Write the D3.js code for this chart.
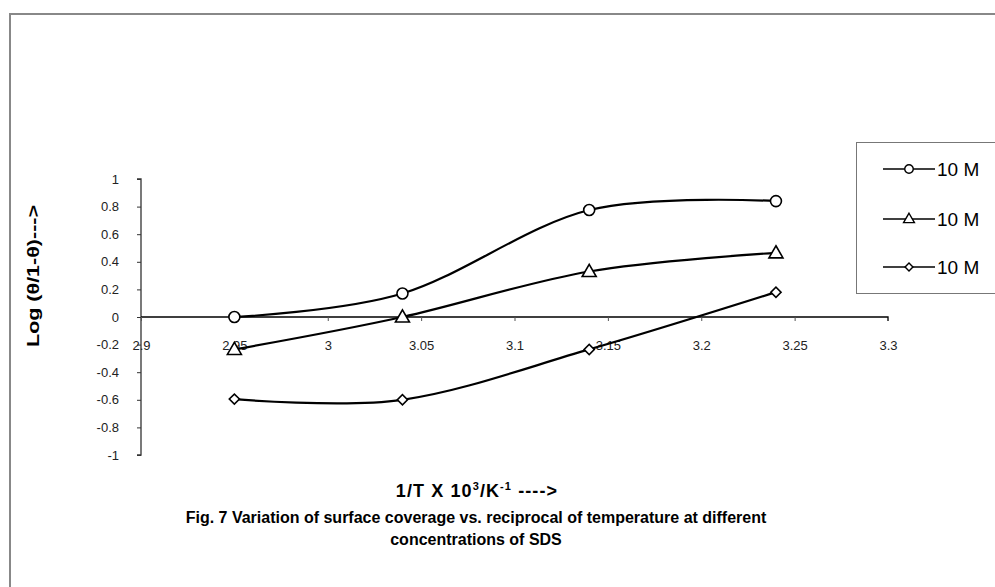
<!DOCTYPE html>
<html>
<head>
<meta charset="utf-8">
<script src="https://cdn.jsdelivr.net/npm/d3@7"></script>
<style>
  html, body { margin: 0; padding: 0; background: #fff; }
  svg { display: block; }
</style>
</head>
<body>
<svg id="chart" width="995" height="587"></svg>
<script>
const xValues = [2.95, 3.04, 3.14, 3.24];
const seriesCircle = [0.0, 0.17, 0.775, 0.84];
const seriesTriangle = [-0.235, 0.0, 0.33, 0.465];
const seriesDiamond = [-0.595, -0.6, -0.235, 0.18];
const seriesNames = ["10 M", "10 M", "10 M"];
const seriesSymbols = ["circle", "triangle", "diamond"];
const xTicks = [2.9, 2.95, 3, 3.05, 3.1, 3.15, 3.2, 3.25, 3.3];
const yTicks = [-1, -0.8, -0.6, -0.4, -0.2, 0, 0.2, 0.4, 0.6, 0.8, 1];
const yTitle = "Log (\u03B8/1-\u03B8)--->";
const captionLines = ["Fig. 7 Variation of surface coverage vs. reciprocal of temperature at different", "concentrations of SDS"];

const svg = d3.select("#chart");
const font = "Arial, 'Liberation Sans', Helvetica, sans-serif";
const fmt = d => String(+d.toFixed(2));

// outer frame
svg.append("path")
  .attr("d", "M10,600 L10,14 L1000,14")
  .attr("fill", "none").attr("stroke", "#888").attr("stroke-width", 2);

const x = d3.scaleLinear().domain([2.9, 3.3]).range([141, 888]);
const y = d3.scaleLinear().domain([-1, 1]).range([455, 179]);

// y axis at x = 2.9
const yAxis = d3.axisLeft(y).tickValues(yTicks).tickSize(4).tickPadding(18).tickFormat(fmt);
const gy = svg.append("g").attr("transform", `translate(${x(2.9)},0)`).call(yAxis);
gy.attr("font-size", 13).attr("font-family", font);
gy.select(".domain").attr("stroke", "#333").attr("stroke-width", 1.3).attr("d", `M-4,${y(1)}H0V${y(-1)}H-4`);
gy.selectAll(".tick line").attr("stroke", "#333");
gy.selectAll("text").attr("fill", "#222");

// x axis at y = 0
const xAxis = d3.axisBottom(x).tickValues(xTicks).tickSize(4).tickPadding(20).tickFormat(fmt);
const gx = svg.append("g").attr("transform", `translate(0,${y(0)})`).call(xAxis);
gx.attr("font-size", 13).attr("font-family", font);
gx.select(".domain").attr("stroke", "#000").attr("stroke-width", 1.3).attr("d", `M${x(2.9)},0H${x(3.3)}V4`);
gx.selectAll(".tick line").attr("stroke", "#555");
gx.selectAll("text").attr("fill", "#222");

// lines
const allSeries = [seriesCircle, seriesTriangle, seriesDiamond];
const line = d3.line().x((d, i) => x(xValues[i])).y(d => y(d)).curve(d3.curveCatmullRom.alpha(0));

function marker(type, scale) {
  if (type === "circle") return d3.symbol().type(d3.symbolCircle).size(95 * scale)();
  if (type === "triangle") return d3.symbol().type(d3.symbolTriangle).size(85 * scale)();
  return d3.symbol().type(d3.symbolSquare).size(52 * scale)();
}
function markerRot(type) { return type === "diamond" ? " rotate(45)" : ""; }

allSeries.forEach((s, k) => {
  svg.append("path").datum(s).attr("d", line)
    .attr("fill", "none").attr("stroke", "#000").attr("stroke-width", 2.2);
});
allSeries.forEach((s, k) => {
  const t = seriesSymbols[k];
  svg.selectAll(null).data(s).enter().append("path")
    .attr("d", marker(t, 1))
    .attr("transform", (d, i) => `translate(${x(xValues[i])},${y(d) + (t === "triangle" ? 1 : 0)})${markerRot(t)}`)
    .attr("fill", "#fff").attr("stroke", "#000").attr("stroke-width", 1.6);
});

// legend
const lg = svg.append("g");
lg.append("rect").attr("x", 856.5).attr("y", 142.5).attr("width", 200).attr("height", 151)
  .attr("fill", "#fff").attr("stroke", "#777").attr("stroke-width", 1);
const legY = [169, 219, 267];
seriesNames.forEach((name, k) => {
  const t = seriesSymbols[k];
  lg.append("line").attr("x1", 883).attr("x2", 935).attr("y1", legY[k]).attr("y2", legY[k])
    .attr("stroke", "#000").attr("stroke-width", 1.6);
  lg.append("path").attr("d", marker(t, 0.6))
    .attr("transform", `translate(909,${legY[k] + (t === "triangle" ? 0.5 : 0)})${markerRot(t)}`)
    .attr("fill", "#fff").attr("stroke", "#000").attr("stroke-width", 1.4);
  lg.append("text").attr("x", 937).attr("y", legY[k]).attr("dy", "0.36em")
    .attr("font-family", font).attr("font-size", 19).attr("fill", "#000").text(name);
});

// y title
svg.append("text")
  .attr("transform", "translate(39,276) rotate(-90)")
  .attr("text-anchor", "middle")
  .attr("font-family", font).attr("font-size", 17).attr("font-weight", "bold")
  .attr("textLength", 142).attr("lengthAdjust", "spacingAndGlyphs")
  .text(yTitle);

// x title with superscripts
const xt = svg.append("text").attr("x", 477).attr("y", 497).attr("text-anchor", "middle")
  .attr("font-family", font).attr("font-size", 18).attr("font-weight", "bold")
  .attr("letter-spacing", 1.1);
xt.append("tspan").text("1/T X 10");
xt.append("tspan").attr("dy", -7).attr("font-size", 11).text("3");
xt.append("tspan").attr("dy", 7).text("/K");
xt.append("tspan").attr("dy", -7).attr("font-size", 11).text("-1");
xt.append("tspan").attr("dy", 7).text(" ---->");

// caption
const capY = [523, 545];
captionLines.forEach((t, i) => {
  svg.append("text").attr("x", 476).attr("y", capY[i]).attr("text-anchor", "middle")
    .attr("font-family", font).attr("font-size", 16).attr("font-weight", "bold").text(t);
});
</script>
</body>
</html>
